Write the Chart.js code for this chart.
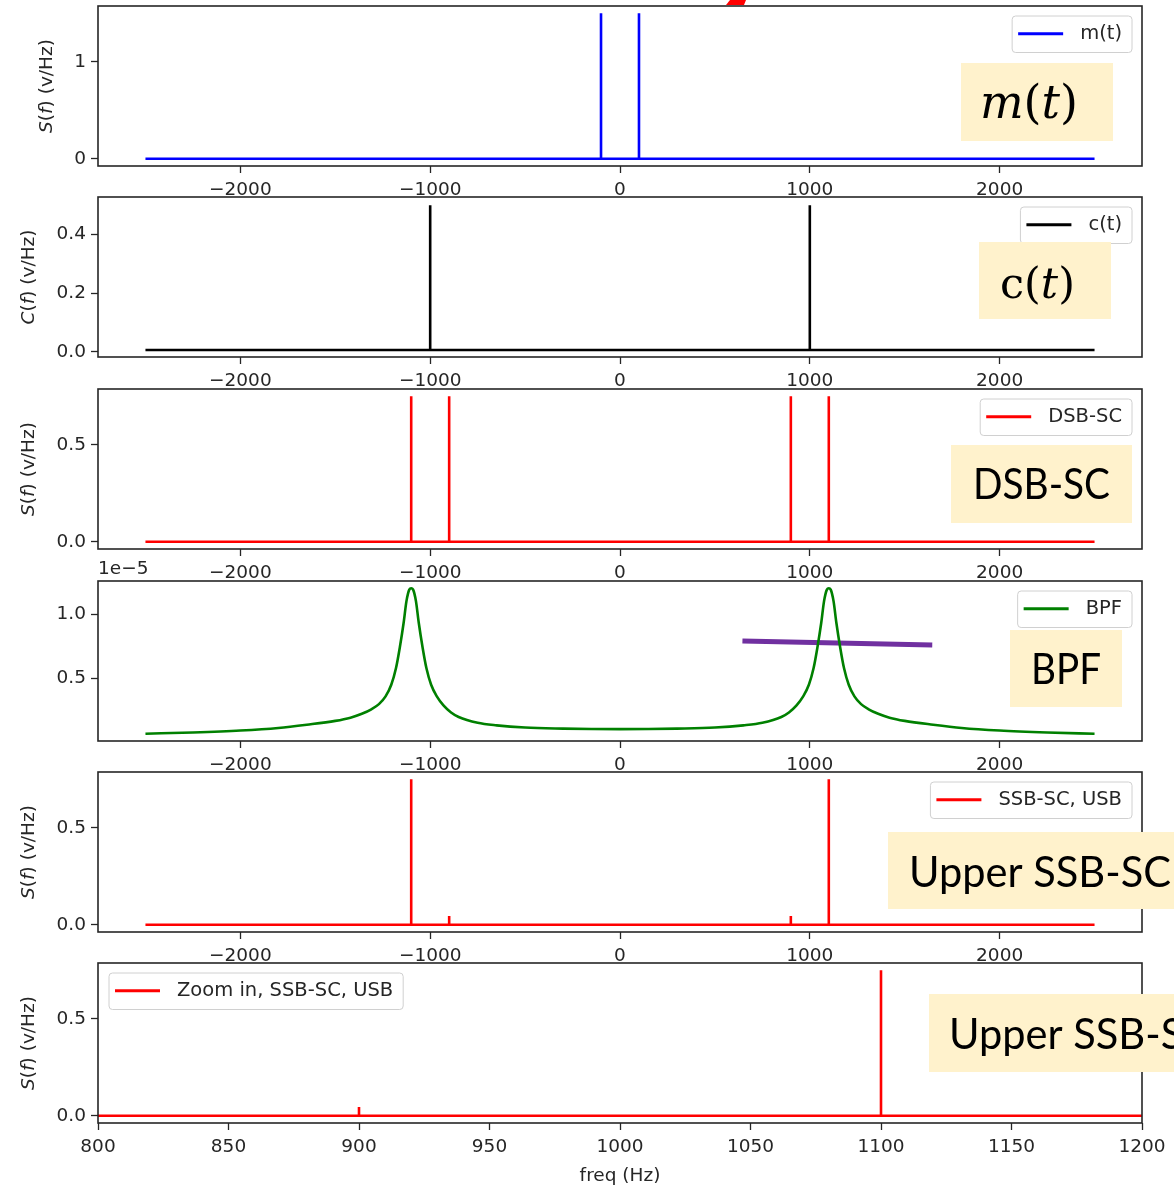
<!DOCTYPE html>
<html><head><meta charset="utf-8">
<script src="https://cdn.jsdelivr.net/npm/chart.js@4/dist/chart.umd.min.js"></script>
<style>
html,body{margin:0;padding:0;background:#fff;}
#wrap{position:relative;width:1174px;height:1187px;overflow:hidden;background:#fff;}
canvas{position:absolute;left:0;}
</style></head><body><div id="wrap"></div>
<script>
// ---------------- data ----------------
const freqSpan = [-2500, 2500];
const wideXTicks = [-2000, -1000, 0, 1000, 2000];
const wideXTickLabels = ['\u22122000', '\u22121000', '0', '1000', '2000'];
const zoomXTicks = [800, 850, 900, 950, 1000, 1050, 1100, 1150, 1200];
const zoomXTickLabels = ['800', '850', '900', '950', '1000', '1050', '1100', '1150', '1200'];

const mSpikeFreq = [-100, 100];
const mSpikeVal = [1.5, 1.5];
const mYTicks = [0, 1];
const mYTickLabels = ['0', '1'];

const cSpikeFreq = [-1000, 1000];
const cSpikeVal = [0.5, 0.5];
const cBaseline = 0.006;
const cYTicks = [0, 0.2, 0.4];
const cYTickLabels = ['0.0', '0.2', '0.4'];

const dsbSpikeFreq = [-1100, -900, 900, 1100];
const dsbSpikeVal = [0.75, 0.75, 0.75, 0.75];
const dsbYTicks = [0, 0.5];
const dsbYTickLabels = ['0.0', '0.5'];

// BPF magnitude, in units of 1e-5
const bpfFreq = [-2500, -2250, -2000, -1800, -1650, -1500, -1420, -1360, -1310, -1270, -1235, -1205, -1180, -1160, -1140, -1125, -1110, -1100, -1090, -1075, -1060, -1040, -1020, -995, -965, -930, -890, -850, -750, -650, -500, -300, -150, 0,
                 150, 300, 500, 650, 750, 850, 890, 930, 965, 995, 1020, 1040, 1060, 1075, 1090, 1100, 1110, 1125, 1140, 1160, 1180, 1205, 1235, 1270, 1310, 1360, 1420, 1500, 1650, 1800, 2000, 2250, 2500];
const bpfVal = [0.07, 0.08, 0.095, 0.115, 0.14, 0.17, 0.195, 0.225, 0.26, 0.30, 0.36, 0.45, 0.58, 0.74, 0.93, 1.10, 1.19, 1.20, 1.19, 1.10, 0.93, 0.74, 0.58, 0.45, 0.36, 0.29, 0.235, 0.20, 0.155, 0.135, 0.118, 0.11, 0.107, 0.106,
                0.107, 0.11, 0.118, 0.135, 0.155, 0.20, 0.235, 0.29, 0.36, 0.45, 0.58, 0.74, 0.93, 1.10, 1.19, 1.20, 1.19, 1.10, 0.93, 0.74, 0.58, 0.45, 0.36, 0.30, 0.26, 0.225, 0.195, 0.17, 0.14, 0.115, 0.095, 0.08, 0.07];
const bpfYTicks = [0.5, 1.0];
const bpfYTickLabels = ['0.5', '1.0'];
const bpfOffsetLabel = '1e\u22125';
const markFreq = [645, 1645];      // hand-drawn purple stroke over BPF panel
const markVal = [0.79, 0.76];

const ssbSpikeFreq = [-1100, -900, 900, 1100];
const ssbSpikeVal = [0.75, 0.045, 0.045, 0.75];
const ssbYTicks = [0, 0.5];
const ssbYTickLabels = ['0.0', '0.5'];

// ---------------- helpers ----------------
const wrap = document.getElementById('wrap');
const W = 1174, PLOT_L = 98, PLOT_R = 1142, PLOT_H = 160;
const FONT_FAMILY = '"DejaVu Sans"';
const TICK_SIZE = 18.5;
const LEG_SIZE = 19.5;

function spikeSeries(span, freqs, vals, base) {
  const pts = [{x: span[0], y: base}];
  freqs.forEach((f, i) => { pts.push({x: f, y: base}, {x: f, y: vals[i]}, {x: f, y: base}); });
  pts.push({x: span[1], y: base});
  return pts;
}
function curveSeries(freqs, vals) { return freqs.map((f, i) => ({x: f, y: vals[i]})); }

function roundRect(ctx, x, y, w, h, r) {
  ctx.beginPath();
  ctx.moveTo(x + r, y);
  ctx.lineTo(x + w - r, y); ctx.quadraticCurveTo(x + w, y, x + w, y + r);
  ctx.lineTo(x + w, y + h - r); ctx.quadraticCurveTo(x + w, y + h, x + w - r, y + h);
  ctx.lineTo(x + r, y + h); ctx.quadraticCurveTo(x, y + h, x, y + h - r);
  ctx.lineTo(x, y + r); ctx.quadraticCurveTo(x, y, x + r, y);
  ctx.closePath();
}

function drawParts(ctx, parts, size, family, x, y) {
  for (const [t, style] of parts) {
    ctx.font = (style ? style + ' ' : '') + size + 'px ' + family;
    ctx.fillText(t, x, y);
    x += ctx.measureText(t).width;
  }
}
function partsWidth(ctx, parts, size, family) {
  let w = 0;
  for (const [t, style] of parts) {
    ctx.font = (style ? style + ' ' : '') + size + 'px ' + family;
    w += ctx.measureText(t).width;
  }
  return w;
}

function makePanel(p) {
  const canvas = document.createElement('canvas');
  const H = p.padTop + PLOT_H + p.padBottom;
  const top0 = p.plotTop - p.padTop;
  canvas.width = W; canvas.height = H;
  canvas.style.width = W + 'px'; canvas.style.height = H + 'px';
  canvas.style.top = top0 + 'px';
  wrap.appendChild(canvas);

  const datasets = p.series.map(s => ({
    data: s.data, borderColor: s.color, borderWidth: s.width || 2.6, pointRadius: 0,
    showLine: true, fill: false, tension: 0,
    cubicInterpolationMode: s.smooth ? 'monotone' : 'default',
    borderCapStyle: s.cap || 'butt'
  }));

  const panelPlugin = {
    id: 'panel_' + p.id,
    beforeDraw(chart) {
      const a = chart.chartArea, ctx = chart.ctx;
      ctx.save(); ctx.fillStyle = '#ffffff';
      ctx.fillRect(a.left, a.top, a.right - a.left, a.bottom - a.top);
      ctx.restore();
    },
    afterDatasetsDraw(chart) {
      const a = chart.chartArea, ctx = chart.ctx;
      ctx.save(); ctx.strokeStyle = '#262626'; ctx.lineWidth = 1.6;
      ctx.strokeRect(a.left, a.top, a.right - a.left, a.bottom - a.top);
      ctx.restore();
    },
    afterDraw(chart) {
      const a = chart.chartArea, ctx = chart.ctx;
      ctx.save();
      // legend
      if (p.legend) {
        ctx.font = LEG_SIZE + 'px ' + FONT_FAMILY;
        const tw = ctx.measureText(p.legend.text).width;
        const h = 36.5, w = 78 + tw;
        const x = p.legend.pos === 'left' ? a.left + 11 : a.right - 10 - w;
        const y = a.top + 10;
        roundRect(ctx, x, y, w, h, 3.5);
        ctx.fillStyle = 'rgba(255,255,255,0.8)'; ctx.fill();
        ctx.strokeStyle = '#d0d0d0'; ctx.lineWidth = 1; ctx.stroke();
        ctx.beginPath(); ctx.moveTo(x + 6, y + h / 2 - 0.5); ctx.lineTo(x + 51, y + h / 2 - 0.5);
        ctx.strokeStyle = p.legend.color; ctx.lineWidth = 3; ctx.stroke();
        ctx.fillStyle = '#262626'; ctx.textBaseline = 'middle'; ctx.textAlign = 'left';
        ctx.font = LEG_SIZE + 'px ' + FONT_FAMILY;
        ctx.fillText(p.legend.text, x + 68, y + h / 2);
      }
      // y label
      if (p.ylabel) {
        ctx.font = TICK_SIZE + 'px ' + FONT_FAMILY;
        const maxW = Math.max(...p.yl.map(t => ctx.measureText(t).width));
        const cx = PLOT_L - 12 - maxW - 27.5;
        const cy = (a.top + a.bottom) / 2;
        ctx.translate(cx, cy); ctx.rotate(-Math.PI / 2);
        ctx.textBaseline = 'middle'; ctx.textAlign = 'left'; ctx.fillStyle = '#262626';
        const tw = partsWidth(ctx, p.ylabel, TICK_SIZE, FONT_FAMILY);
        drawParts(ctx, p.ylabel, TICK_SIZE, FONT_FAMILY, -tw / 2, 0);
        ctx.setTransform(1, 0, 0, 1, 0, 0);
      }
      // x label
      if (p.xlabel) {
        ctx.font = TICK_SIZE + 'px ' + FONT_FAMILY;
        ctx.fillStyle = '#262626'; ctx.textAlign = 'center'; ctx.textBaseline = 'middle';
        ctx.fillText(p.xlabel, (a.left + a.right) / 2, a.bottom + 53);
      }
      // offset label
      if (p.offsetLabel) {
        ctx.font = TICK_SIZE + 'px ' + FONT_FAMILY;
        ctx.fillStyle = '#262626'; ctx.textAlign = 'left'; ctx.textBaseline = 'alphabetic';
        ctx.fillText(p.offsetLabel, a.left, a.top - 7);
      }
      // beige call-out boxes (slide overlays)
      (p.boxes || []).forEach(b => {
        ctx.fillStyle = '#FFF2CC';
        ctx.fillRect(b.x, b.y - top0, b.w, b.h);
        ctx.fillStyle = '#000000'; ctx.textAlign = 'left'; ctx.textBaseline = 'alphabetic';
        if (b.maxWidth) {
          ctx.font = b.size + 'px ' + b.family;
          ctx.fillText(b.parts[0][0], b.tx, b.ty - top0, b.maxWidth);
        } else {
          drawParts(ctx, b.parts, b.size, b.family, b.tx, b.ty - top0);
        }
      });
      if (p.redMark) {
        ctx.fillStyle = '#ff0000';
        ctx.beginPath();
        ctx.moveTo(730, 0 - top0); ctx.lineTo(746, 0 - top0); ctx.lineTo(744, 5 - top0); ctx.lineTo(726, 5 - top0);
        ctx.closePath(); ctx.fill();
      }
      ctx.restore();
    }
  };

  new Chart(canvas, {
    type: 'scatter',
    data: { datasets },
    options: {
      responsive: false, animation: false, devicePixelRatio: 1,
      events: [],
      layout: { padding: { top: p.padTop, right: W - PLOT_R, left: 0, bottom: 0 } },
      plugins: { legend: { display: false }, tooltip: { enabled: false }, title: { display: false } },
      scales: {
        x: {
          type: 'linear', min: p.xmin, max: p.xmax,
          afterFit(s) { s.height = p.padBottom; s.paddingLeft = 0; s.paddingRight = 0; },
          afterBuildTicks(s) { s.ticks = p.xt.map(v => ({ value: v })); },
          ticks: { callback: (v, i) => p.xl[i], font: { family: 'DejaVu Sans', size: TICK_SIZE },
                   color: '#262626', padding: 6, maxRotation: 0, minRotation: 0, autoSkip: false },
          grid: { drawOnChartArea: false, drawTicks: true, tickLength: 7, tickWidth: 1.3, tickColor: '#262626' },
          border: { display: false }
        },
        y: {
          type: 'linear', min: p.ymin, max: p.ymax,
          afterFit(s) { s.width = PLOT_L; s.paddingTop = 0; s.paddingBottom = 0; },
          afterBuildTicks(s) { s.ticks = p.yt.map(v => ({ value: v })); },
          ticks: { callback: (v, i) => p.yl[i], font: { family: 'DejaVu Sans', size: TICK_SIZE },
                   color: '#262626', padding: 5, autoSkip: false },
          grid: { drawOnChartArea: false, drawTicks: true, tickLength: 7, tickWidth: 1.3, tickColor: '#262626' },
          border: { display: false }
        }
      }
    },
    plugins: [panelPlugin]
  });
}

const S_LABEL = [['S', 'italic'], ['(', ''], ['f', 'italic'], [')', ''], [' (v/Hz)', '']];
const C_LABEL = [['C', 'italic'], ['(', ''], ['f', 'italic'], [')', ''], [' (v/Hz)', '']];
const CALLOUT_FONT = 'Lato';

const panels = [
  { id: 'm', plotTop: 6, padTop: 6, padBottom: 40, xmin: -2750, xmax: 2750, xt: wideXTicks, xl: wideXTickLabels,
    ymin: -0.075, ymax: 1.575, yt: mYTicks, yl: mYTickLabels, ylabel: S_LABEL,
    series: [{ data: spikeSeries(freqSpan, mSpikeFreq, mSpikeVal, 0), color: '#0000ff' }],
    legend: { text: 'm(t)', color: '#0000ff', pos: 'right' },
    boxes: [{ x: 961, y: 63, w: 152, h: 78, tx: 980, ty: 118, size: 46, family: '"DejaVu Serif"',
              parts: [['m', 'italic'], ['(', ''], ['t', 'italic'], [')', '']] }],
    redMark: true },
  { id: 'c', plotTop: 197, padTop: 31, padBottom: 40, xmin: -2750, xmax: 2750, xt: wideXTicks, xl: wideXTickLabels,
    ymin: -0.018, ymax: 0.528, yt: cYTicks, yl: cYTickLabels, ylabel: C_LABEL,
    series: [{ data: spikeSeries(freqSpan, cSpikeFreq, cSpikeVal, cBaseline), color: '#000000' }],
    legend: { text: 'c(t)', color: '#000000', pos: 'right' },
    boxes: [{ x: 979, y: 242, w: 132, h: 77, tx: 1000, ty: 298, size: 43, family: '"DejaVu Serif"',
              parts: [['c', ''], ['(', ''], ['t', 'italic'], [')', '']] }] },
  { id: 'dsb', plotTop: 389, padTop: 31, padBottom: 40, xmin: -2750, xmax: 2750, xt: wideXTicks, xl: wideXTickLabels,
    ymin: -0.0375, ymax: 0.7875, yt: dsbYTicks, yl: dsbYTickLabels, ylabel: S_LABEL,
    series: [{ data: spikeSeries(freqSpan, dsbSpikeFreq, dsbSpikeVal, 0), color: '#ff0000' }],
    legend: { text: 'DSB-SC', color: '#ff0000', pos: 'right' },
    boxes: [{ x: 951, y: 445, w: 181, h: 78, tx: 973, ty: 499, size: 43, family: CALLOUT_FONT, maxWidth: 137,
              parts: [['DSB-SC', '']] }] },
  { id: 'bpf', plotTop: 581, padTop: 31, padBottom: 40, xmin: -2750, xmax: 2750, xt: wideXTicks, xl: wideXTickLabels,
    ymin: 0.0135, ymax: 1.2565, yt: bpfYTicks, yl: bpfYTickLabels, ylabel: null, offsetLabel: bpfOffsetLabel,
    series: [{ data: curveSeries(bpfFreq, bpfVal), color: '#008000', smooth: true },
             { data: curveSeries(markFreq, markVal), color: '#7030A0', width: 5 }],
    legend: { text: 'BPF', color: '#008000', pos: 'right' },
    boxes: [{ x: 1010, y: 630, w: 112, h: 77, tx: 1031, ty: 684, size: 43, family: CALLOUT_FONT, maxWidth: 70,
              parts: [['BPF', '']] }] },
  { id: 'ssb', plotTop: 772, padTop: 31, padBottom: 40, xmin: -2750, xmax: 2750, xt: wideXTicks, xl: wideXTickLabels,
    ymin: -0.0375, ymax: 0.7875, yt: ssbYTicks, yl: ssbYTickLabels, ylabel: S_LABEL,
    series: [{ data: spikeSeries(freqSpan, ssbSpikeFreq, ssbSpikeVal, 0), color: '#ff0000' }],
    legend: { text: 'SSB-SC, USB', color: '#ff0000', pos: 'right' },
    boxes: [{ x: 888, y: 832, w: 300, h: 77, tx: 909, ty: 887, size: 43, family: CALLOUT_FONT, maxWidth: 262,
              parts: [['Upper SSB-SC', '']] }] },
  { id: 'zoom', plotTop: 963, padTop: 31, padBottom: 64, xmin: 800, xmax: 1200, xt: zoomXTicks, xl: zoomXTickLabels,
    ymin: -0.0375, ymax: 0.7875, yt: ssbYTicks, yl: ssbYTickLabels, ylabel: S_LABEL, xlabel: 'freq (Hz)',
    series: [{ data: spikeSeries(freqSpan, ssbSpikeFreq, ssbSpikeVal, 0), color: '#ff0000' }],
    legend: { text: 'Zoom in, SSB-SC, USB', color: '#ff0000', pos: 'left' },
    boxes: [{ x: 929, y: 994, w: 300, h: 78, tx: 949, ty: 1049, size: 43, family: CALLOUT_FONT, maxWidth: 262,
              parts: [['Upper SSB-SC', '']] }] }
];

panels.forEach(makePanel);
</script>
</body></html>
